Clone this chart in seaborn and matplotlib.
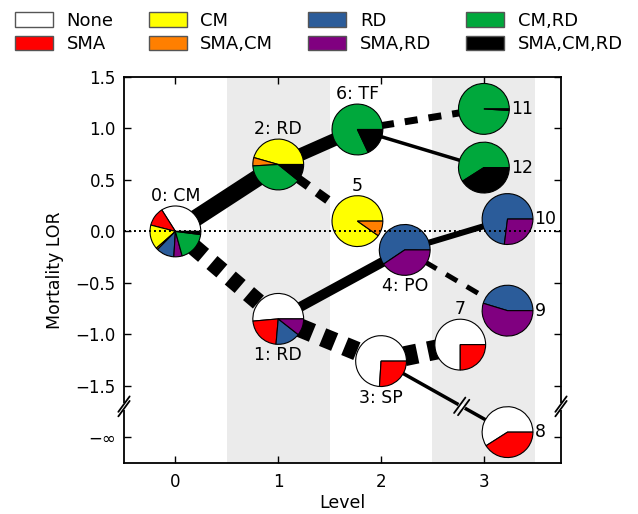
import numpy as np
import pandas as pd
import matplotlib
matplotlib.use("Agg")
import matplotlib.pyplot as plt
import seaborn as sns
from matplotlib.patches import Patch

# ---------------- data ----------------
categories = ['None', 'SMA', 'CM', 'SMA,CM', 'RD', 'SMA,RD', 'CM,RD', 'SMA,CM,RD']
cat_colors = ['#ffffff', '#ff0000', '#ffff00', '#ff7f00', '#2b5c9a', '#800080', '#00a83c', '#000000']

node_labels = ['0: CM', '1: RD', '2: RD', '3: SP', '4: PO', '5', '6: TF', '7', '8', '9', '10', '11', '12']
node_level = [0, 1, 1, 2, 2.23, 1.77, 1.77, 2.77, 3.23, 3.23, 3.23, 3.0, 3.0]
node_lor = [0.0, -0.85, 0.65, -1.26, -0.18, 0.10, 0.99, -1.10, -1.95, -0.77, 0.12, 1.19, 0.62]
label_side = ['above', 'below', 'above', 'below', 'below', 'above', 'above', 'above',
              'right', 'right', 'right', 'right', 'right']

# fractions per node in category order
frac_0 = [0.34, 0.12, 0.155, 0.011, 0.114, 0.053, 0.187, 0.02]
frac_1 = [0.514, 0.222, 0, 0, 0.158, 0.106, 0, 0]
frac_2 = [0, 0, 0.456, 0.053, 0, 0, 0.383, 0.108]
frac_3 = [0.74, 0.26, 0, 0, 0, 0, 0, 0]
frac_4 = [0, 0, 0, 0, 0.594, 0.406, 0, 0]
frac_5 = [0, 0, 0.903, 0.097, 0, 0, 0, 0]
frac_6 = [0, 0, 0, 0, 0, 0, 0.82, 0.18]
frac_7 = [0.75, 0.25, 0, 0, 0, 0, 0, 0]
frac_8 = [0.59, 0.41, 0, 0, 0, 0, 0, 0]
frac_9 = [0, 0, 0, 0, 0.453, 0.547, 0, 0]
frac_10 = [0, 0, 0, 0, 0.73, 0.27, 0, 0]
frac_11 = [0, 0, 0, 0, 0, 0, 0.99, 0.01]
frac_12 = [0, 0, 0, 0, 0, 0, 0.59, 0.41]
node_fracs = [frac_0, frac_1, frac_2, frac_3, frac_4, frac_5, frac_6,
              frac_7, frac_8, frac_9, frac_10, frac_11, frac_12]

edge_src = [0, 0, 2, 2, 1, 1, 6, 6, 4, 4, 3, 3]
edge_dst = [2, 1, 6, 5, 4, 3, 11, 12, 10, 9, 7, 8]
edge_width_px = [17, 17, 13, 9, 10, 19, 7, 3.5, 6, 5, 20, 3.5]
edge_dashed = [False, True, False, True, False, True, True, False, False, True, True, False]

ytick_vals = [1.5, 1.0, 0.5, 0.0, -0.5, -1.0, -1.5, -2.0]
ytick_labels = ['1.5', '1.0', '0.5', '0.0', '\u22120.5', '\u22121.0', '\u22121.5', '\u2212\u221e']
xtick_vals = [0, 1, 2, 3]
y_break = -1.70

# ---------------- style ----------------
sns.set_style('ticks')
plt.rcParams['font.family'] = ['DejaVu Sans']
plt.rcParams['lines.scale_dashes'] = False
plt.rcParams['text.color'] = 'black'
plt.rcParams['axes.labelcolor'] = 'black'
plt.rcParams['xtick.color'] = 'black'
plt.rcParams['ytick.color'] = 'black'

PX = 72 / 100.0  # points per pixel

fig = plt.figure(figsize=(6.38, 5.14), dpi=100)
ax = fig.add_axes([124 / 638, 51 / 514, 437 / 638, 386 / 514])

XLIM = (-0.5, 3.75)
YLIM = (-2.25, 1.5)

# shaded level bands
for lo in (0.5, 2.5):
    ax.axvspan(lo, lo + 1, color='#ebebeb', zorder=0, lw=0)

# edges
for s, d, w, dsh in zip(edge_src, edge_dst, edge_width_px, edge_dashed):
    df = pd.DataFrame({'Level': [node_level[s], node_level[d]],
                       'LOR': [node_lor[s], node_lor[d]]})
    ls = (0, (13 * PX, 11 * PX)) if dsh else '-'
    sns.lineplot(data=df, x='Level', y='LOR', sort=False, estimator=None,
                 color='black', linewidth=w * PX, linestyle=ls, ax=ax, zorder=2)

# pies
R = 0.247
for i in range(len(node_labels)):
    fr = np.array(node_fracs[i], dtype=float)
    keep = fr > 0
    cols = [c for c, k in zip(cat_colors, keep) if k]
    ax.pie(fr[keep], colors=cols, center=(node_level[i], node_lor[i]), radius=R,
           startangle=0, counterclock=True, frame=True,
           wedgeprops=dict(edgecolor='black', linewidth=0.8, zorder=3))
    x, y = node_level[i], node_lor[i]
    if label_side[i] == 'above':
        ax.text(x, y + 0.345, node_labels[i], ha='center', va='center', fontsize=12.5,
                color='black', zorder=6)
    elif label_side[i] == 'below':
        ax.text(x, y - 0.355, node_labels[i], ha='center', va='center', fontsize=12.5,
                color='black', zorder=6)
    else:
        ax.text(x + 0.262, y, node_labels[i], ha='left', va='center', fontsize=12.5,
                color='black', zorder=6)

# dotted zero line
ax.axhline(0, color='black', lw=1.4, linestyle=(0, (1.4, 2.2)), zorder=5)

ax.set_aspect('auto')
ax.set_xlim(*XLIM)
ax.set_ylim(*YLIM)

ax.set_xticks(xtick_vals)
ax.set_xticklabels([str(v) for v in xtick_vals])
ax.set_yticks(ytick_vals)
ax.set_yticklabels(ytick_labels)
ax.tick_params(direction='in', top=True, right=True, length=5, width=1,
               labelsize=12, colors='black')
ax.tick_params(axis='y', pad=6)
ax.tick_params(axis='x', pad=7)
for sp in ax.spines.values():
    sp.set_visible(True)
    sp.set_linewidth(1.3)
    sp.set_color('black')
ax.set_xlabel('Level', fontsize=12.5, labelpad=2)
ax.set_ylabel('Mortality LOR', fontsize=12.5, labelpad=8)


# break marks
def break_mark(xc, yc, ux, uy):
    gap = 0.022
    ax.plot([xc - gap * ux * 1.6, xc + gap * ux * 1.6], [yc - gap * uy * 1.6, yc + gap * uy * 1.6],
            color='white', lw=4, solid_capstyle='butt', clip_on=False, zorder=7)
    for sgn in (-1, 1):
        cx, cy = xc + sgn * gap * ux, yc + sgn * gap * uy
        ax.plot([cx - 0.055, cx + 0.055], [cy - 0.075, cy + 0.075],
                color='black', lw=1.3, clip_on=False, zorder=8)


break_mark(XLIM[0], y_break, 0, 1)
break_mark(XLIM[1], y_break, 0, 1)
# on the edge 3 -> 8
x0, y0, x1, y1 = node_level[3], node_lor[3], node_level[8], node_lor[8]
t = (y_break - y0) / (y1 - y0)
bx, by = x0 + t * (x1 - x0), y_break
L = np.hypot(x1 - x0, y1 - y0)
break_mark(bx, by, (x1 - x0) / L, (y1 - y0) / L)

# legend
handles = [Patch(facecolor=c, edgecolor='#555555', linewidth=1.0) for c in cat_colors]
fig.legend(handles, categories, loc='upper center', bbox_to_anchor=(0.5, 1.0), ncol=4,
           frameon=False, fontsize=13, handlelength=2.1, handleheight=0.85,
           handletextpad=0.75, columnspacing=1.95, labelspacing=0.3, borderpad=0.15)

fig.savefig('out.png', dpi=100)
